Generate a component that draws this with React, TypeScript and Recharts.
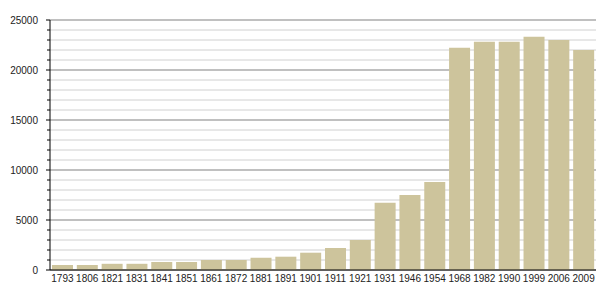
import { Bar, BarChart, CartesianGrid, XAxis, YAxis } from 'recharts'

const years = ['1793', '1806', '1821', '1831', '1841', '1851', '1861', '1872', '1881', '1891', '1901', '1911', '1921', '1931', '1946', '1954', '1968', '1982', '1990', '1999', '2006', '2009']
const population = [500, 500, 620, 620, 800, 800, 1000, 1000, 1230, 1330, 1730, 2200, 3000, 6730, 7500, 8800, 22230, 22830, 22830, 23330, 23000, 22000]
const minorTicks = Array.from({ length: 26 }, (_, i) => i * 1000)
const majorTicks = [0, 5000, 10000, 15000, 20000, 25000]

const rows = years.map((year, i) => ({ year, value: population[i] }))
const font = '"Liberation Sans", Arial, sans-serif'

function YTick({ x, y, payload }: { x: number; y: number; payload: { value: number } }) {
  const major = payload.value % 5000 === 0
  return (
    <g>
      <line x1={x + 8 - (major ? 4 : 3)} x2={x + 8} y1={y} y2={y} stroke="#000" />
      {major && <text x={x - 4} y={y} dy="0.35em" textAnchor="end" fontSize={10} fill="#222" fontFamily={font}>{payload.value}</text>}
    </g>
  )
}

export default function App() {
  return (
    <div style={{ position: 'absolute', left: 0, top: 0, width: 605, height: 300, background: '#fff' }}>
      <BarChart width={605} height={300} data={rows} margin={{ top: 20, right: 9, left: 0, bottom: 0 }} barCategoryGap="8%">
        <CartesianGrid vertical={false} stroke="#d0d0d0" horizontalValues={minorTicks} />
        <CartesianGrid vertical={false} stroke="#999" horizontalValues={majorTicks} />
        <XAxis dataKey="year" tickLine={false} tickSize={0} tickMargin={5} interval={0} axisLine={{ stroke: '#000' }} height={30} tick={{ fontSize: 10, fill: '#222', fontFamily: font }} />
        <YAxis domain={[0, 25000]} ticks={minorTicks} interval={0} tickLine={false} axisLine={{ stroke: '#000' }} width={50} tick={(props: any) => <YTick {...props} />} />
        <Bar dataKey="value" fill="#cdc49c" isAnimationActive={false} />
      </BarChart>
    </div>
  )
}
